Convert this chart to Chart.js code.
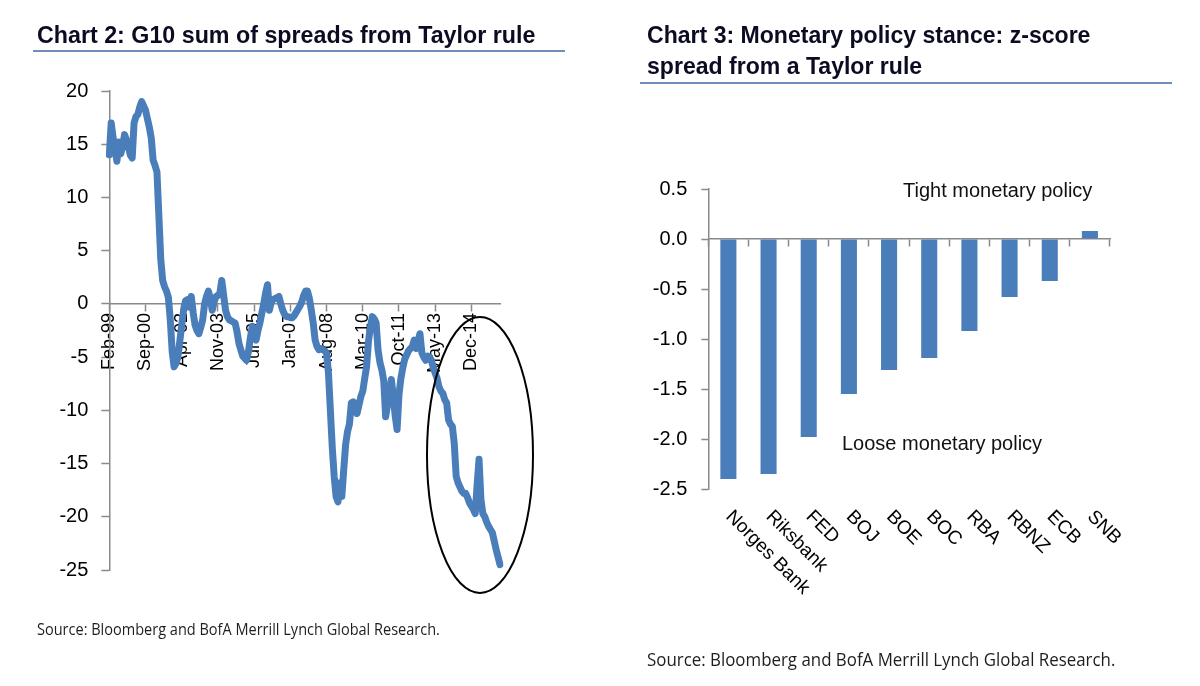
<!DOCTYPE html>
<html><head><meta charset="utf-8">
<script src="https://cdn.jsdelivr.net/npm/chart.js@4/dist/chart.umd.min.js"></script>
<style>
html,body{margin:0;padding:0;background:#fff;width:1200px;height:686px;overflow:hidden;}
.abs{position:absolute;white-space:nowrap;transform-origin:0 0;}
.title{font-family:"Liberation Sans",Arial,sans-serif;font-weight:bold;color:#0b0b22;font-size:24px;line-height:24px;}
.rule{position:absolute;height:2px;background:#6f8db8;}
.src{font-family:"Open Sans",sans-serif;color:#1e1e1e;}
.note{font-family:"Liberation Sans",Arial,sans-serif;font-size:20px;line-height:20px;color:#111;}
#c1{position:absolute;left:0;top:0;width:600px;height:686px;}
#c2{position:absolute;left:600px;top:0;width:600px;height:686px;}
</style></head>
<body>
<canvas id="c1" width="600" height="686"></canvas>
<canvas id="c2" width="600" height="686"></canvas>

<div class="abs title" data-w="498" style="left:37px;top:23px;">Chart 2: G10 sum of spreads from Taylor rule</div>
<div class="rule" style="left:33px;top:50px;width:532px;"></div>

<div class="abs title" id="rt1" data-w="443" style="left:647px;top:23px;">Chart 3: Monetary policy stance: z-score</div>
<div class="abs title" id="rt2" data-same="rt1" style="left:647px;top:54px;">spread from a Taylor rule</div>
<div class="rule" style="left:640px;top:82px;width:532px;"></div>

<div class="abs note" style="left:903px;top:180px;">Tight monetary policy</div>
<div class="abs note" style="left:842px;top:433px;">Loose monetary policy</div>

<div class="abs src" data-w="403" style="left:37px;top:621px;font-size:16px;line-height:16px;">Source: Bloomberg and BofA Merrill Lynch Global Research.</div>
<div class="abs src" data-w="468" style="left:647px;top:650px;font-size:18px;line-height:18px;">Source: Bloomberg and BofA Merrill Lynch Global Research.</div>

<script>
// ---------- Data ----------
const tickLabels = ['Feb-99','Sep-00','Apr-02','Nov-03','Jun-05','Jan-07','Aug-08','Mar-10','Oct-11','May-13','Dec-14'];

const g10Spread = [
 14.0, 17.0, 15.6, 14.5, 13.4, 15.2, 14.1, 14.8, 15.9, 15.4,
 14.8, 14.0, 13.7, 17.0, 17.6, 17.8, 18.5, 19.0, 18.6, 18.2,
 17.4, 16.6, 15.6, 13.5, 13.0, 12.4, 8.3, 4.2, 2.2, 1.6,
 1.2, 0.6, -1.5, -4.5, -5.9, -5.6, -5.0, -3.5, -2.0, -0.6,
 0.3, 0.4, -0.3, 0.7, -0.8, -2.0, -2.5, -2.8, -2.2, -1.5,
 0.0, 0.7, 1.2, 0.5, -0.6, 0.2, 0.7, 0.8, 1.0, 2.2,
 0.8, -0.6, -1.2, -1.5, -1.6, -1.7, -1.8, -2.6, -3.7, -4.3,
 -4.9, -5.1, -5.3, -4.5, -3.2, -2.1, -2.8, -3.4, -2.5, -1.8,
 -0.9, 0.0, 1.0, 1.8, -0.6, 0.2, 0.4, 0.5, 0.6, 0.7,
 0.0, -0.6, -1.0, -1.2, -1.2, -1.3, -1.3, -1.1, -0.8, -0.5,
 -0.2, 0.2, 0.8, 1.2, 1.2, 0.5, -0.6, -1.8, -3.4, -4.0,
 -4.3, -4.2, -4.3, -4.4, -4.6, -6.5, -10.0, -13.5, -16.2, -18.1,
 -18.6, -16.8, -18.1, -15.6, -13.2, -12.0, -11.3, -9.3, -9.2, -9.4,
 -10.3, -9.5, -8.7, -8.2, -7.0, -5.9, -3.5, -2.2, -1.2, -1.4,
 -1.8, -4.3, -5.5, -6.2, -7.2, -10.6, -9.5, -8.5, -7.1, -8.7,
 -10.5, -11.8, -8.5, -7.0, -6.0, -5.2, -4.8, -4.4, -4.2, -4.0,
 -3.4, -4.2, -3.5, -2.8, -4.6, -5.0, -5.3, -4.9, -5.0, -5.3,
 -6.0, -6.5, -7.0, -7.8, -8.2, -8.4, -9.0, -9.3, -10.9, -11.3,
 -11.5, -13.1, -16.2, -16.8, -17.2, -17.6, -17.8, -17.8, -18.2, -18.7,
 -19.0, -19.3, -19.7, -17.0, -14.6, -18.4, -19.7, -20.0, -20.5, -20.9,
 -21.2, -21.5, -22.3, -23.1, -23.8, -24.5
];

const banks = ['Norges Bank','Riksbank','FED','BOJ','BOE','BOC','RBA','RBNZ','ECB','SNB'];
const zScores = [-2.40, -2.35, -1.98, -1.55, -1.31, -1.19, -0.92, -0.58, -0.42, 0.08];

// monthly category labels starting Feb-99
const MON = ['Jan','Feb','Mar','Apr','May','Jun','Jul','Aug','Sep','Oct','Nov','Dec'];
const months = g10Spread.map((_, i) => {
  const k = 1 + i;
  return MON[k % 12] + '-' + String((1999 + Math.floor(k / 12)) % 100).padStart(2, '0');
});

// ---------- Styling ----------
Chart.defaults.font.family = '"Liberation Sans", Arial, sans-serif';
Chart.defaults.color = '#000';
const AXIS = '#8a8a8a';
const BLUE = '#4a7ebb';

const ellipsePlugin = {
  id: 'ellipseMark',
  afterDraw(chart) {
    const ctx = chart.ctx;
    ctx.save();
    ctx.beginPath();
    ctx.ellipse(480, 455, 53, 138, 0, 0, Math.PI * 2);
    ctx.lineWidth = 2;
    ctx.strokeStyle = '#000';
    ctx.stroke();
    ctx.restore();
  }
};

new Chart(document.getElementById('c1'), {
  type: 'line',
  data: {
    labels: months,
    datasets: [{
      data: g10Spread,
      borderColor: BLUE,
      borderWidth: 7,
      pointRadius: 0,
      tension: 0,
      fill: false,
      borderJoinStyle: 'round',
      borderCapStyle: 'round'
    }]
  },
  options: {
    responsive: false,
    animation: false,
    devicePixelRatio: 1,
    layout: { padding: { left: 0, top: 91, right: 100, bottom: 116 } },
    plugins: { legend: { display: false }, tooltip: { enabled: false } },
    scales: {
      x: {
        type: 'category',
        position: { y: 0 },
        offset: false,
        grid: {
          drawOnChartArea: false,
          drawTicks: true,
          tickLength: 7,
          tickWidth: 1.5,
          tickColor: ctx => (tickLabels.includes(months[ctx.index]) ? AXIS : 'rgba(0,0,0,0)')
        },
        border: { color: AXIS, width: 1.5 },
        ticks: {
          autoSkip: false,
          minRotation: 90,
          maxRotation: 90,
          padding: 2,
          font: { size: 18 },
          color: '#000',
          callback: (v, i) => (tickLabels.includes(months[i]) ? months[i] : '')
        }
      },
      y: {
        min: -25, max: 20,
        afterFit: s => { s.width = 109.3; },
        grid: { drawOnChartArea: false, tickLength: 8, tickColor: AXIS, tickWidth: 1.5 },
        border: { color: AXIS, width: 1.5 },
        ticks: { stepSize: 5, padding: 13, font: { size: 20 }, color: '#000' }
      }
    }
  },
  plugins: [ellipsePlugin]
});

const slantLabels = {
  id: 'slantLabels',
  afterDraw(chart) {
    const ctx = chart.ctx, xs = chart.scales.x;
    ctx.save();
    ctx.font = '19px "Liberation Sans", Arial, sans-serif';
    ctx.fillStyle = '#000';
    ctx.textAlign = 'left';
    ctx.textBaseline = 'top';
    chart.data.labels.forEach((lab, i) => {
      const x = xs.getPixelForValue(i);
      ctx.save();
      ctx.translate(x + 7, 507);
      ctx.rotate(Math.PI / 4);
      ctx.fillText(lab, 0, 0);
      ctx.restore();
    });
    ctx.restore();
  }
};

new Chart(document.getElementById('c2'), {
  type: 'bar',
  data: {
    labels: banks,
    datasets: [{
      data: zScores,
      backgroundColor: BLUE,
      borderWidth: 0,
      categoryPercentage: 1,
      barPercentage: 0.4
    }]
  },
  options: {
    responsive: false,
    animation: false,
    devicePixelRatio: 1,
    layout: { padding: { left: 0, top: 189, right: 90, bottom: 197 } },
    plugins: { legend: { display: false }, tooltip: { enabled: false } },
    scales: {
      x: {
        position: { y: 0 },
        offset: true,
        grid: { drawOnChartArea: false, offset: true, tickLength: 7, tickColor: AXIS, tickWidth: 1.5 },
        border: { color: AXIS, width: 1.5 },
        ticks: { display: false }
      },
      y: {
        min: -2.5, max: 0.5,
        afterFit: s => { s.width = 108.3; },
        grid: { drawOnChartArea: false, tickLength: 7, tickColor: AXIS, tickWidth: 1.5 },
        border: { color: AXIS, width: 1.5 },
        ticks: { stepSize: 0.5, padding: 14, font: { size: 20 }, color: '#000',
                 callback: v => Number(v).toFixed(1) }
      }
    }
  },
  plugins: [slantLabels]
});

// fit text widths to reference
const scales = {};
document.querySelectorAll('[data-w]').forEach(el => {
  const s = Number(el.dataset.w) / el.offsetWidth;
  scales[el.id || ''] = s;
  el.style.transform = 'scaleX(' + s + ')';
});
document.querySelectorAll('[data-same]').forEach(el => {
  const s = scales[el.dataset.same] || 1;
  el.style.transform = 'scaleX(' + s + ')';
});
</script>
</body></html>
